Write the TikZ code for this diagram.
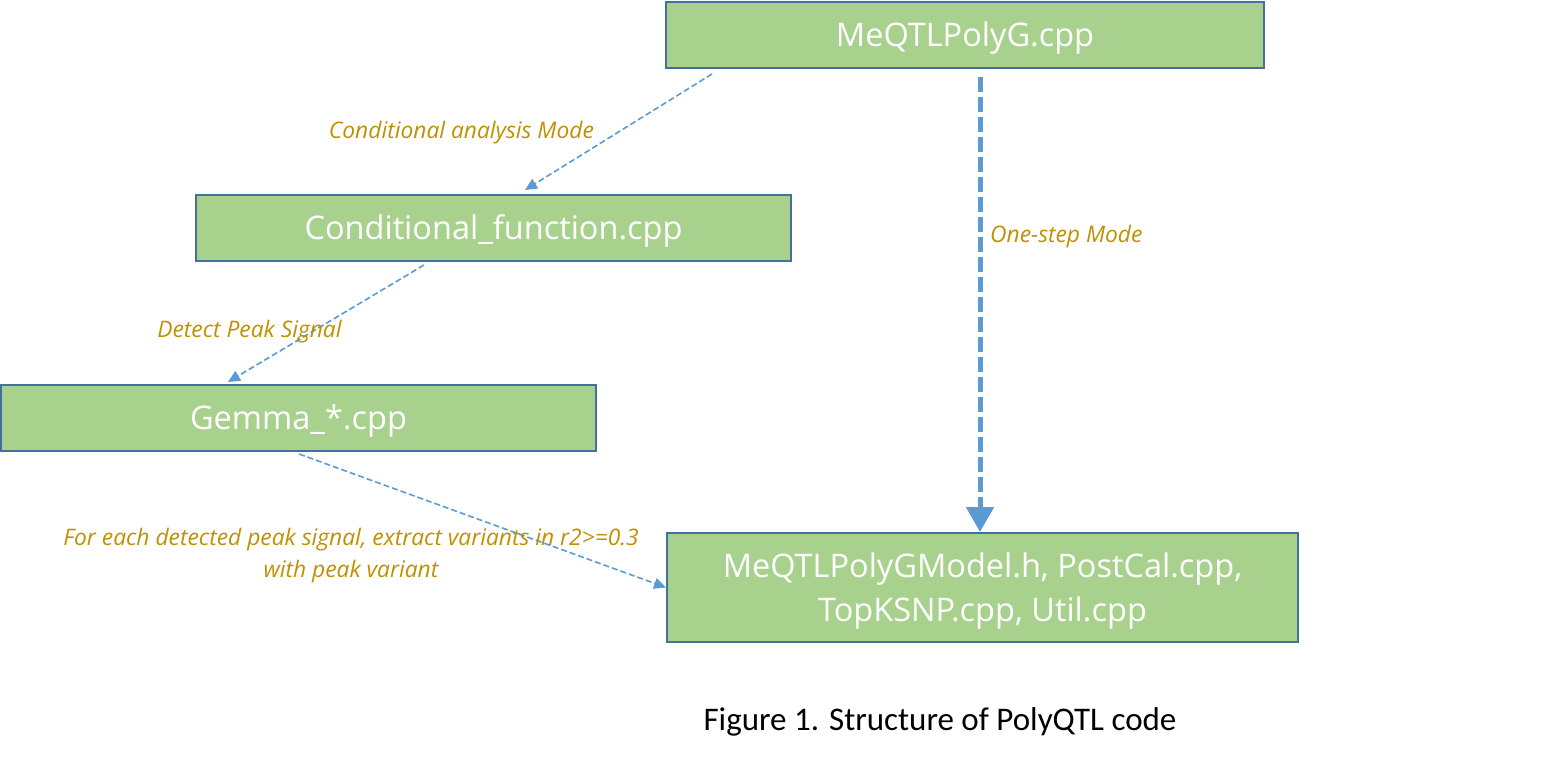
\documentclass[tikz,border=0pt]{standalone}
\usepackage{fontspec}
\setmainfont{Open Sans}
\newfontfamily\capfont{Carlito}
\usetikzlibrary{arrows.meta}
\definecolor{boxfill}{HTML}{A9D18E}
\definecolor{boxline}{HTML}{41719C}
\definecolor{arrowblue}{HTML}{5B9BD5}
\definecolor{labelgold}{HTML}{BF9000}
\tikzset{
  filebox/.style={draw=boxline, line width=2pt, fill=boxfill, text=white, inner sep=0pt,
    font=\fontsize{32.5}{44}\selectfont, align=center, text height=23.2pt, text depth=0pt},
  thinarrow/.style={draw=arrowblue, line width=1.6pt, dash pattern=on 6pt off 3pt,
    -{Triangle[length=12pt,width=11pt]}},
  thickarrow/.style={draw=arrowblue, line width=5pt, dash pattern=on 15pt off 5pt,
    -{Triangle[length=25pt,width=27pt]}},
  modelabel/.style={text=labelgold, font=\fontsize{22.8}{32}\selectfont\itshape, inner sep=0pt, align=center},
}
\begin{document}
\begin{tikzpicture}[x=1pt,y=-1pt]
\useasboundingbox (0,0) rectangle (1560,763);
\node[filebox, minimum width=598pt, minimum height=66pt] (meqtl) at (965,35) {MeQTLPolyG.cpp};
\node[filebox, minimum width=595pt, minimum height=66pt] (cond) at (493.5,228) {Conditional\_function.cpp};
\node[filebox, minimum width=595pt, minimum height=66pt] (gemma) at (298.5,418) {Gemma\_*.cpp};
\node[filebox, minimum width=631pt, minimum height=109pt, text height=67.2pt] (model) at (982.5,587.5) {MeQTLPolyGModel.h, PostCal.cpp,\\TopKSNP.cpp, Util.cpp};

\draw[thinarrow] ([xshift=-253pt,yshift=-5pt]meqtl.south) -- ([xshift=31.5pt,yshift=4pt]cond.north);
\draw[thinarrow] ([xshift=-69.5pt,yshift=-3pt]cond.south) -- ([xshift=-70.5pt,yshift=2pt]gemma.north);
\draw[thinarrow] ([xshift=0.5pt,yshift=-2pt]gemma.south) -- (model.west);
\draw[thickarrow] ([xshift=15pt,yshift=-8pt]meqtl.south) -- ([xshift=-2.5pt]model.north);

\node[modelabel] (lcond) at (461.5,133) {Conditional analysis Mode};
\node[modelabel, anchor=west] (lone) at (990,237) {One-step Mode};
\node[modelabel] (ldetect) at (249.5,332) {Detect Peak Signal};
\node[modelabel] (lfor) at (351,556) {For each detected peak signal, extract variants in r2>=0.3\\with peak variant};
\node[font=\capfont\fontsize{33}{40}\selectfont, inner sep=0pt] (caption) at (940,722) {Figure 1. Structure of PolyQTL code};
\end{tikzpicture}
\end{document}
